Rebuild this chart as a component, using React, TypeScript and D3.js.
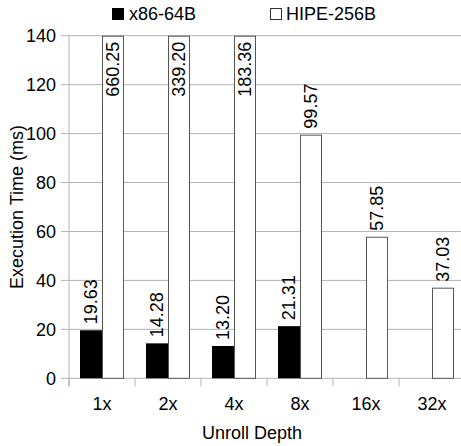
import React from "react";
import * as d3 from "d3";

const categories = ["1x", "2x", "4x", "8x", "16x", "32x"];
const x86Values: (number | null)[] = [19.63, 14.28, 13.2, 21.31, null, null];
const hipeValues: number[] = [660.25, 339.2, 183.36, 99.57, 57.85, 37.03];
const seriesNames = ["x86-64B", "HIPE-256B"];
const yTicks = [0, 20, 40, 60, 80, 100, 120, 140];

const W = 461;
const H = 446;
const left = 69;
const right = 465;
const top = 35.7;
const bottom = 378.3;
const FONT = "'Liberation Sans', Arial, sans-serif";
const FS = 18;

export default function App() {
  const x = d3.scaleBand<string>().domain(categories).range([left, right]).paddingInner(0).paddingOuter(0);
  const y = d3.scaleLinear().domain([0, 140]).range([bottom, top]);
  const bw = 22;
  const yc = (v: number) => Math.max(y(v), top);
  return (
    <svg width={W} height={H} style={{ position: "absolute", left: 0, top: 0 }} fontFamily={FONT}>
      <rect width={W} height={H} fill="#fff" />
      {yTicks.map((t) => (
        <g key={t}>
          <line x1={left - 8} x2={W + 10} y1={y(t)} y2={y(t)} stroke="#b3b3b3" strokeWidth={1} />
          <text x={56} y={y(t)} dy="0.35em" textAnchor="end" fontSize={FS} fill="#000">
            {t}
          </text>
        </g>
      ))}
      <line x1={left} x2={left} y1={top} y2={bottom + 8} stroke="#b3b3b3" />
      {categories.map((c, i) => (
        <line key={"tk" + i} x1={x(c) as number} x2={x(c) as number} y1={bottom} y2={bottom + 8} stroke="#b3b3b3" />
      ))}
      {categories.map((c, i) => {
        const cx = (x(c) as number) + x.bandwidth() / 2;
        const xv = x86Values[i];
        const hv = hipeValues[i];
        const hy = yc(hv);
        const clipped = y(hv) < top;
        return (
          <g key={c}>
            {xv !== null && (
              <>
                <rect x={cx - bw} y={y(xv)} width={bw} height={bottom - y(xv)} fill="#000" />
                <text
                  transform={`translate(${cx - bw / 2},${y(xv) - 6}) rotate(-90)`}
                  dy="0.35em"
                  fontSize={FS}
                  fill="#000"
                >
                  {xv.toFixed(2)}
                </text>
              </>
            )}
            <rect x={cx + 0.5} y={hy + 0.5} width={bw - 1} height={bottom - hy - 0.5} fill="#fff" stroke="#555" strokeWidth={1} />
            {clipped ? (
              <text
                transform={`translate(${cx + bw / 2},${top + 6}) rotate(-90)`}
                dy="0.35em"
                textAnchor="end"
                fontSize={FS}
                fill="#000"
              >
                {hv.toFixed(2)}
              </text>
            ) : (
              <text
                transform={`translate(${cx + bw / 2},${hy - 6}) rotate(-90)`}
                dy="0.35em"
                fontSize={FS}
                fill="#000"
              >
                {hv.toFixed(2)}
              </text>
            )}
            <text x={cx} y={410} textAnchor="middle" fontSize={FS} fill="#000">
              {c}
            </text>
          </g>
        );
      })}
      <text x={252} y={439} textAnchor="middle" fontSize={FS} fill="#000">
        Unroll Depth
      </text>
      <text transform={`translate(23,${(top + bottom) / 2}) rotate(-90)`} textAnchor="middle" fontSize={FS} fill="#000">
        Execution Time (ms)
      </text>
      <rect x={112.5} y={8.5} width={11} height={11} fill="#000" stroke="#000" />
      <text x={129} y={20} fontSize={FS} fill="#000">{seriesNames[0]}</text>
      <rect x={270.5} y={8.5} width={11} height={11} fill="#fff" stroke="#333" />
      <text x={286} y={20} fontSize={FS} fill="#000">{seriesNames[1]}</text>
    </svg>
  );
}
